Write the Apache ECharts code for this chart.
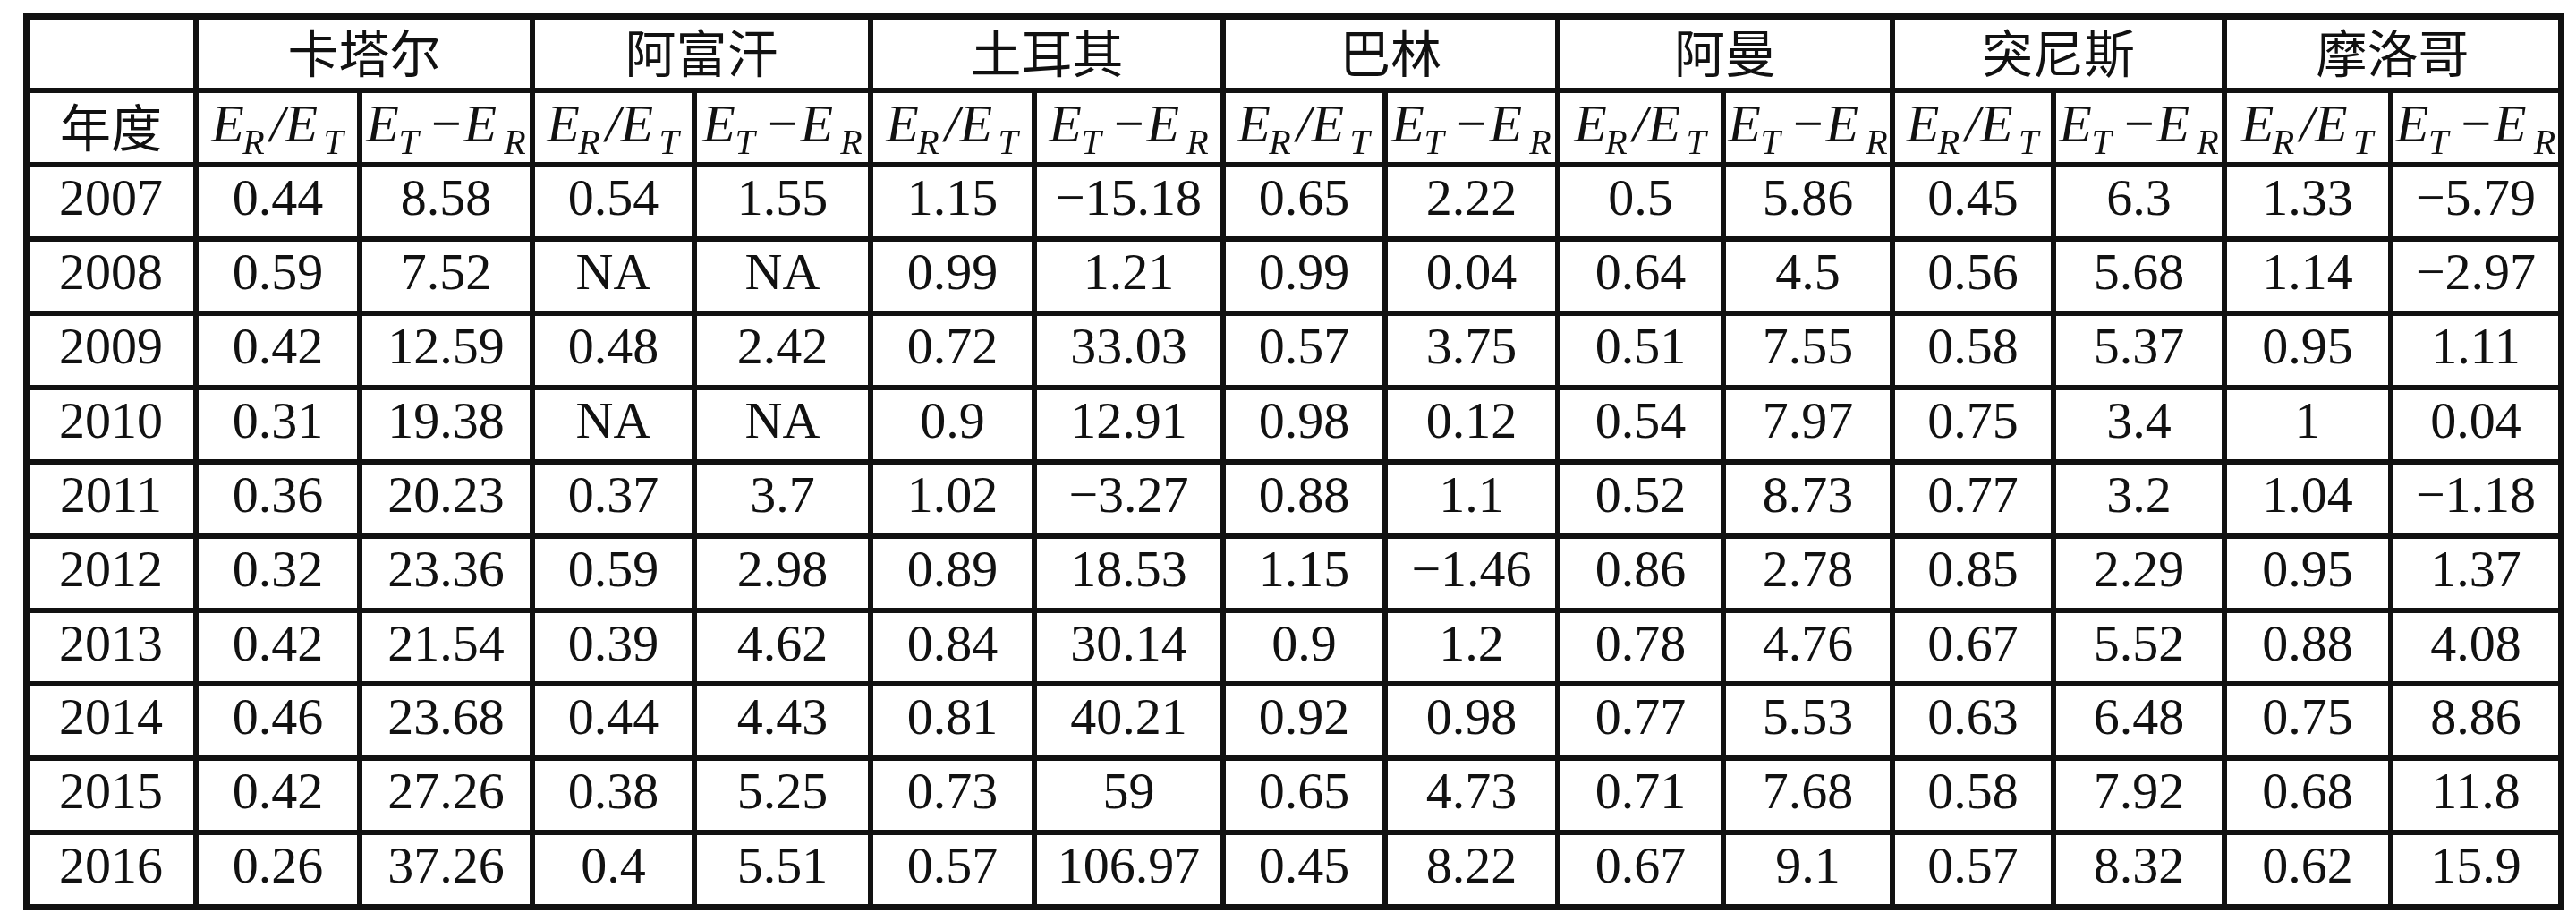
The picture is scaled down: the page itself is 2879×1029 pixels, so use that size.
<!DOCTYPE html>
<html>
<head>
<meta charset="utf-8">
<script src="https://cdn.jsdelivr.net/npm/echarts@6/dist/echarts.min.js"></script>
<style>
html,body{margin:0;padding:0;background:#fff;}
#chart{width:2879px;height:1029px;}
</style>
</head>
<body>
<div id="chart"></div>
<script>
// ---- data ----
var countries = ['卡塔尔', '阿富汗', '土耳其', '巴林', '阿曼', '突尼斯', '摩洛哥'];
var years = ['2007', '2008', '2009', '2010', '2011', '2012', '2013', '2014', '2015', '2016'];
var yearHeader = '年度';
var subHeaders = ['{e|E}{s|R}{e|/E}{s|T}', '{e|E}{s|T}{e|−E}{s|R}'];

var qatarRatio = [0.44, 0.59, 0.42, 0.31, 0.36, 0.32, 0.42, 0.46, 0.42, 0.26];
var qatarDiff = [8.58, 7.52, 12.59, 19.38, 20.23, 23.36, 21.54, 23.68, 27.26, 37.26];
var afghanRatio = [0.54, 'NA', 0.48, 'NA', 0.37, 0.59, 0.39, 0.44, 0.38, 0.4];
var afghanDiff = [1.55, 'NA', 2.42, 'NA', 3.7, 2.98, 4.62, 4.43, 5.25, 5.51];
var turkeyRatio = [1.15, 0.99, 0.72, 0.9, 1.02, 0.89, 0.84, 0.81, 0.73, 0.57];
var turkeyDiff = [-15.18, 1.21, 33.03, 12.91, -3.27, 18.53, 30.14, 40.21, 59, 106.97];
var bahrainRatio = [0.65, 0.99, 0.57, 0.98, 0.88, 1.15, 0.9, 0.92, 0.65, 0.45];
var bahrainDiff = [2.22, 0.04, 3.75, 0.12, 1.1, -1.46, 1.2, 0.98, 4.73, 8.22];
var omanRatio = [0.5, 0.64, 0.51, 0.54, 0.52, 0.86, 0.78, 0.77, 0.71, 0.67];
var omanDiff = [5.86, 4.5, 7.55, 7.97, 8.73, 2.78, 4.76, 5.53, 7.68, 9.1];
var tunisiaRatio = [0.45, 0.56, 0.58, 0.75, 0.77, 0.85, 0.67, 0.63, 0.58, 0.57];
var tunisiaDiff = [6.3, 5.68, 5.37, 3.4, 3.2, 2.29, 5.52, 6.48, 7.92, 8.32];
var moroccoRatio = [1.33, 1.14, 0.95, 1, 1.04, 0.95, 0.88, 0.75, 0.68, 0.62];
var moroccoDiff = [-5.79, -2.97, 1.11, 0.04, -1.18, 1.37, 4.08, 8.86, 11.8, 15.9];

var seriesByCountry = [
  [qatarRatio, qatarDiff], [afghanRatio, afghanDiff], [turkeyRatio, turkeyDiff],
  [bahrainRatio, bahrainDiff], [omanRatio, omanDiff], [tunisiaRatio, tunisiaDiff],
  [moroccoRatio, moroccoDiff]
];

// ---- layout (column widths in px) ----
var colWidths = [190, 183, 193, 181, 197, 183, 211, 181, 193, 185, 189, 180, 191, 186, 190];

function fmt(v) { return typeof v === 'number' ? String(v).replace('-', '−') : v; }

var nCols = 1 + countries.length * 2;
var nRows = 2 + years.length;
var colKeys = [];
for (var i = 0; i < nCols; i++) colKeys.push({ value: 'c' + i, size: colWidths[i] });
var rowKeys = [];
for (var r = 0; r < nRows; r++) rowKeys.push('r' + r);

var cjkLabel = { fontFamily: 'Noto Sans CJK SC', fontSize: 57, lineHeight: 78, color: '#111' };
var cells = [];
cells.push({ coord: [0, 0], value: '' });
cells.push({ coord: [0, 1], value: yearHeader, label: cjkLabel });
countries.forEach(function (c, k) {
  cells.push({ coord: [[1 + 2 * k, 2 + 2 * k], 0], mergeCells: true, value: c, label: cjkLabel });
  cells.push({ coord: [1 + 2 * k, 1], value: subHeaders[0] });
  cells.push({ coord: [2 + 2 * k, 1], value: subHeaders[1] });
});
years.forEach(function (y, j) {
  cells.push({ coord: [0, 2 + j], value: y });
  seriesByCountry.forEach(function (pair, k) {
    cells.push({ coord: [1 + 2 * k, 2 + j], value: fmt(pair[0][j]) });
    cells.push({ coord: [2 + 2 * k, 2 + j], value: fmt(pair[1][j]) });
  });
});

var chart = echarts.init(document.getElementById('chart'));
chart.setOption({
  backgroundColor: '#fff',
  matrix: {
    left: 29, top: 18, right: 17, bottom: 16,
    x: { show: false, data: colKeys },
    y: { show: false, data: rowKeys },
    corner: { show: false },
    backgroundStyle: { color: '#fff', borderColor: '#111', borderWidth: 7 },
    body: {
      itemStyle: { color: '#fff', borderColor: '#111', borderWidth: 6 },
      label: {
        fontFamily: 'Liberation Serif', fontSize: 58, lineHeight: 78, color: '#111',
        rich: {
          e: { fontFamily: 'Liberation Serif', fontStyle: 'italic', fontSize: 60, lineHeight: 78, color: '#111', verticalAlign: 'middle', padding: [0, 3, 0, 3] },
          s: { fontFamily: 'Liberation Serif', fontStyle: 'italic', fontSize: 40, lineHeight: 40, color: '#111', verticalAlign: 'bottom', padding: [0, 2, 0, 1] }
        }
      },
      data: cells
    }
  }
});
</script>
</body>
</html>
